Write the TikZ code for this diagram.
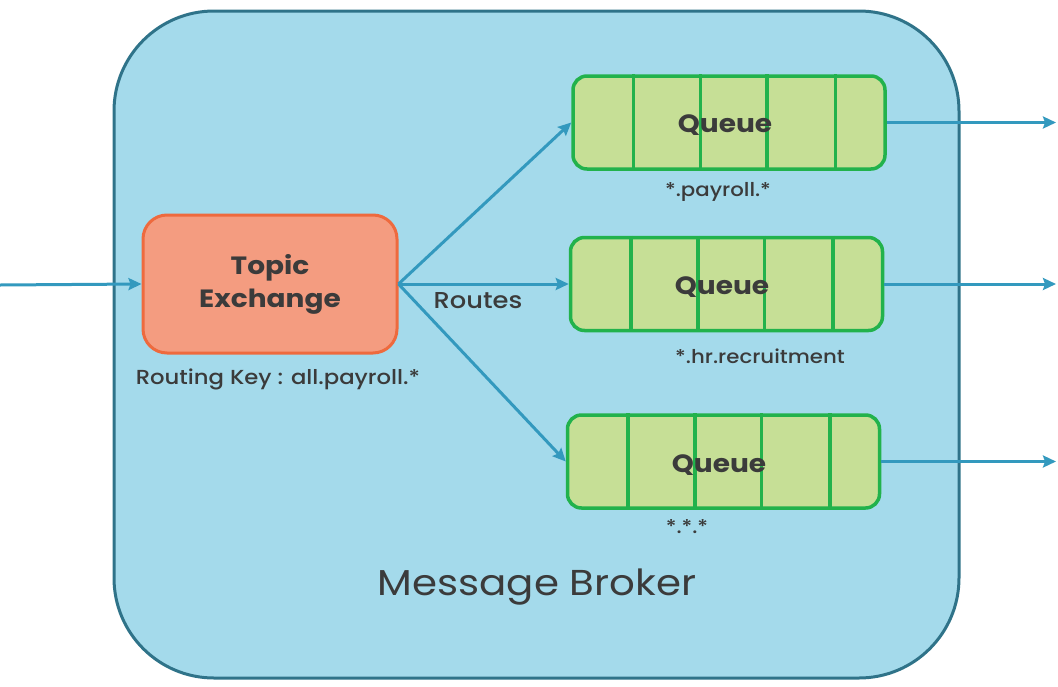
\documentclass[tikz,border=0pt]{standalone}
\usepackage{fontspec}
\setmainfont{Poppins}[FakeStretch=1.12]
\IfFontExistsTF{Poppins Medium}
  {\newfontfamily\pmed{Poppins Medium}[FakeStretch=1.12]}
  {\newfontfamily\pmed{Poppins}[FakeStretch=1.12]}
\usetikzlibrary{arrows.meta,calc}
\definecolor{brokerfill}{HTML}{A4DAEB}
\definecolor{brokerline}{HTML}{2F7389}
\definecolor{arrowcol}{HTML}{3399BE}
\definecolor{exfill}{HTML}{F49C80}
\definecolor{exline}{HTML}{EE6A3E}
\definecolor{qfill}{HTML}{C6DF96}
\definecolor{qline}{HTML}{22B24C}
\definecolor{txt}{HTML}{3B3B3B}
\begin{document}
\begin{tikzpicture}[x=1pt,y=-1pt,
  broker/.style={draw=brokerline,fill=brokerfill,line width=3pt,rounded corners=100pt,
    minimum width=845pt,minimum height=667pt,inner sep=0pt},
  exbox/.style={draw=exline,fill=exfill,line width=3pt,rounded corners=24pt,
    minimum width=254pt,minimum height=138pt,inner sep=0pt,align=center,
    text=txt,font=\fontsize{25}{33}\selectfont\bfseries},
  qbox/.style={draw=qline,fill=qfill,line width=3.5pt,rounded corners=14pt,
    minimum width=312pt,minimum height=93pt,inner sep=0pt},
  qdiv/.style={draw=qline,line width=3.5pt},
  qtext/.style={text=txt,font=\fontsize{25}{28}\selectfont\bfseries,inner sep=0pt},
  lbl/.style={text=txt,font=\fontsize{19}{22}\selectfont\pmed,inner sep=0pt},
  arr/.style={draw=arrowcol,line width=3pt,-{Stealth[length=13pt,width=12pt,inset=2pt]}}
]
\useasboundingbox (0,0) rectangle (1058,686);
\node[broker] (broker) at (536.5,344.5) {};
\node[text=txt,font=\fontsize{36}{40}\selectfont,inner sep=0pt] (brokerlbl) at (537,587) {Message Broker};

\node[exbox] (ex) at (270,284) {Topic\\Exchange};
\node[lbl,font=\fontsize{20.3}{22}\selectfont\pmed] (rk) at (278,379) {Routing Key : all.payroll.*};

\node[qbox] (q1) at (729,122.5) {};
\node[qbox] (q2) at (726.5,284) {};
\node[qbox] (q3) at (723.5,461.5) {};
\foreach \q in {q1,q2,q3}{
  \foreach \f in {0.198,0.41,0.62,0.838}{
    \draw[qdiv] ($(\q.north west)!\f!(\q.north east)$) -- ($(\q.south west)!\f!(\q.south east)$);
  }
}
\node[qtext] (q1t) at (725,125) {Queue};
\node[qtext] (q2t) at (722,287) {Queue};
\node[qtext] (q3t) at (719,465) {Queue};

\node[lbl] (l1) at (718,192) {*.payroll.*};
\node[lbl] (l2) at (760,356) {*.hr.recruitment};
\node[lbl] (l3) at (687,527) {*.*.*};

\coordinate (in) at (0,285);
\draw[arr] (in) -- (ex.west);
\draw[arr] (ex.east) -- (q1.west);
\draw[arr] (ex.east) -- (q2.west);
\draw[arr] (ex.east) -- (q3.west);
\node[text=txt,font=\fontsize{23}{26}\selectfont\pmed,inner sep=0pt] (routes) at (478,301) {Routes};

\coordinate (o1) at (1056,122.5);
\coordinate (o2) at (1056,285);
\coordinate (o3) at (1056,462);
\draw[arr] (q1.east) -- (o1);
\draw[arr] (q2.east) -- (q2.east -| o2);
\draw[arr] (q3.east) -- (q3.east -| o3);
\end{tikzpicture}
\end{document}
